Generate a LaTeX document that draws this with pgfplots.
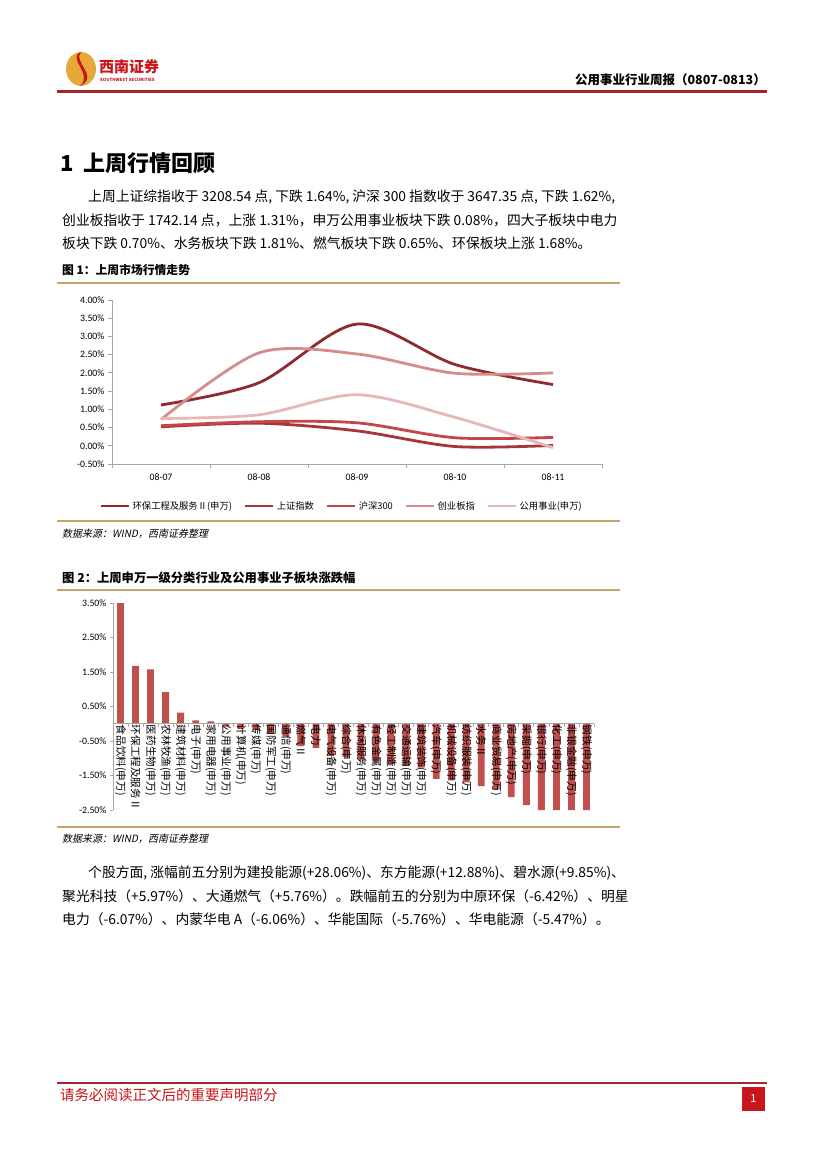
\documentclass[border=0pt]{standalone}
\usepackage{fontspec}
\usepackage{pgfplots}
\pgfplotsset{compat=1.18}
\setmainfont{Noto Sans CJK SC}
\newfontfamily\cjk{Noto Sans CJK SC}
\newfontfamily\srcfont[FakeSlant=0.2]{Noto Sans CJK SC}
\newfontfamily\chartfont{Carlito}
\definecolor{hdrred}{HTML}{A3262B}
\definecolor{logored}{HTML}{C8161D}
\definecolor{logogold}{HTML}{E6A83A}
\definecolor{tanline}{HTML}{C9A46A}
\definecolor{barred}{HTML}{C0504D}
\definecolor{cA}{HTML}{8E2B2E}
\definecolor{cB}{HTML}{A8353A}
\definecolor{cC}{HTML}{C44649}
\definecolor{cD}{HTML}{D48C8C}
\definecolor{cE}{HTML}{E5B8B8}
\definecolor{axgray}{HTML}{A6A6A6}
\begin{document}
\begin{tikzpicture}
\begin{scope}[x=1pt,y=-1pt]
\fill[white] (0,0) rectangle (827,1169);
\path[use as bounding box] (0,0) rectangle (827,1169);
% ---------- header ----------
\fill[logogold] (81,69) ellipse (15 and 17);
\fill[logored] (81,52) .. controls (66,58) and (94,74) .. (80,86) .. controls (100,76) and (72,62) .. (81,52) -- cycle;
\node[anchor=west, inner sep=0, text=logored, font=\bfseries\fontsize{15}{15}\selectfont] at (99,67) {西南证券};
\node[anchor=west, inner sep=0, text=logored, font=\bfseries\fontsize{4.3}{5}\selectfont] at (100,80) {SOUTHWEST SECURITIES};
\node[anchor=east, inner sep=0, font=\bfseries\fontsize{12.5}{13}\selectfont] at (766,80) {公用事业行业周报（0807-0813）};
\draw[hdrred, line width=2.2pt] (57,91.5) -- (767,91.5);
% ---------- section 1 ----------
\node[anchor=west, inner sep=0, font=\bfseries\fontsize{22}{23}\selectfont] at (60,163) {1\ \ 上周行情回顾};
\begin{scope}[every node/.style={anchor=west, inner sep=0, font=\fontsize{13.8}{15}\selectfont}]
\node at (88,197) {上周上证综指收于 3208.54 点, 下跌 1.64\%, 沪深 300 指数收于 3647.35 点, 下跌 1.62\%,};
\node at (62,220) {创业板指收于 1742.14 点，上涨 1.31\%，申万公用事业板块下跌 0.08\%，四大子板块中电力};
\node at (62,243) {板块下跌 0.70\%、水务板块下跌 1.81\%、燃气板块下跌 0.65\%、环保板块上涨 1.68\%。};
\end{scope}
% ---------- figure 1 frame ----------
\node[anchor=west, inner sep=0, font=\bfseries\fontsize{11.8}{12}\selectfont] at (62,270) {图 1：上周市场行情走势};
\draw[tanline, line width=1.3pt] (57,283) -- (620,283);
\draw[tanline, line width=1.3pt] (57,521) -- (620,521);
\node[anchor=west, inner sep=0, font=\srcfont\fontsize{10}{11}\selectfont] at (62,534) {数据来源：WIND，西南证券整理};
% ---------- figure 2 frame ----------
\node[anchor=west, inner sep=0, font=\bfseries\fontsize{12.3}{13}\selectfont] at (62,578) {图 2：上周申万一级分类行业及公用事业子板块涨跌幅};
\draw[tanline, line width=1.3pt] (57,590) -- (620,590);
\draw[tanline, line width=1.3pt] (57,827) -- (620,827);
\node[anchor=west, inner sep=0, font=\srcfont\fontsize{10}{11}\selectfont] at (62,839) {数据来源：WIND，西南证券整理};
% ---------- paragraph 2 ----------
\begin{scope}[every node/.style={anchor=west, inner sep=0, font=\fontsize{13.8}{15}\selectfont}]
\node at (88,873) {个股方面, 涨幅前五分别为建投能源(+28.06\%)、东方能源(+12.88\%)、碧水源(+9.85\%)、};
\node at (62,896) {聚光科技（+5.97\%）、大通燃气（+5.76\%）。跌幅前五的分别为中原环保（-6.42\%）、明星};
\node at (62,919) {电力（-6.07\%）、内蒙华电 A（-6.06\%）、华能国际（-5.76\%）、华电能源（-5.47\%）。};
\end{scope}
% ---------- footer ----------
\draw[hdrred, line width=1.8pt] (57,1083) -- (767,1083);
\node[anchor=west, inner sep=0, text=logored, font=\fontsize{14.5}{15}\selectfont] at (60,1095) {请务必阅读正文后的重要声明部分};
\fill[logored] (742,1087) rectangle (765,1111);
\node[text=white, inner sep=0, font=\fontsize{11}{12}\selectfont] at (753.5,1099) {1};
\end{scope}
% ---------- chart 1 ----------
\begin{axis}[
  at={(112pt,-464pt)}, anchor=south west,
  width=490pt, height=164pt, scale only axis,
  xmin=-0.5, xmax=4.5, ymin=-0.5, ymax=4,
  axis x line*=bottom, axis y line*=left,
  axis line style={axgray, line width=0.8pt},
  tick style={axgray, line width=0.8pt},
  tick align=outside, major tick length=4pt,
  xtick={-0.5,0.5,1.5,2.5,3.5,4.5}, xticklabels={},
  extra x ticks={0,1,2,3,4},
  extra x tick labels={08-07,08-08,08-09,08-10,08-11},
  extra x tick style={major tick length=0pt},
  ytick={-0.5,0,...,4},
  yticklabel={\pgfmathprintnumber[fixed,fixed zerofill,precision=2]{\tick}\%},
  /pgf/number format/assume math mode=true,
  tick label style={font=\chartfont\fontsize{9.8}{10}\selectfont, text=black},
  xticklabel style={yshift=-6pt},
  legend columns=5,
  legend style={at={(0.469,-0.256)}, anchor=center, draw=none, fill=none,
    font=\cjk\fontsize{9.3}{10}\selectfont,
    /tikz/every even column/.append style={column sep=10pt},
    inner sep=0pt},
  legend cell align=left,
  legend image code/.code={\draw[#1, line width=2.8pt] (0pt,0pt) -- (28pt,0pt);},
]
\addplot[cA, line width=2.8pt, smooth] coordinates {(0,1.12) (1,1.73) (2,3.34) (3,2.23) (4,1.68)};
\addplot[cB, line width=2.8pt, smooth] coordinates {(0,0.52) (1,0.62) (2,0.41) (3,-0.02) (4,0.01)};
\addplot[cC, line width=2.8pt, smooth] coordinates {(0,0.55) (1,0.66) (2,0.63) (3,0.22) (4,0.23)};
\addplot[cD, line width=2.8pt, smooth] coordinates {(0,0.72) (1,2.55) (2,2.52) (3,1.99) (4,2.00)};
\addplot[cE, line width=2.8pt, smooth] coordinates {(0,0.75) (1,0.85) (2,1.40) (3,0.78) (4,-0.05)};
\legend{环保工程及服务Ⅱ(申万),上证指数,沪深300,创业板指,公用事业(申万)}
\end{axis}
% ---------- chart 2 ----------
\begin{axis}[
  at={(113pt,-810pt)}, anchor=south west,
  width=481pt, height=207pt, scale only axis,
  axis on top,
  xmin=-0.5, xmax=31.5, ymin=-2.5, ymax=3.5,
  axis y line*=left, axis x line*=middle,
  axis line style={axgray, line width=0.8pt},
  tick style={axgray, line width=0.8pt},
  tick align=outside, major tick length=3pt,
  ytick={-2.5,-1.5,...,3.5},
  yticklabel={\pgfmathprintnumber[fixed,fixed zerofill,precision=2]{\tick}\%},
  /pgf/number format/assume math mode=true,
  yticklabel style={font=\chartfont\fontsize{9.8}{10}\selectfont, text=black},
  xtick={-0.5,0.5,...,31.5}, xticklabels={},
  extra x ticks={0,1,...,31},
  extra x tick labels={食品饮料(申万),环保工程及服务Ⅱ,医药生物(申万),农林牧渔(申万),建筑材料(申万),电子(申万),家用电器(申万),公用事业(申万),计算机(申万),传媒(申万),国防军工(申万),通信(申万),燃气Ⅱ,电力,电气设备(申万),综合(申万),休闲服务(申万),有色金属(申万),轻工制造(申万),交通运输(申万),建筑装饰(申万),汽车(申万),机械设备(申万),纺织服装(申万),水务Ⅱ,商业贸易(申万),房地产(申万),采掘(申万),银行(申万),化工(申万),非银金融(申万),钢铁(申万)},
  extra x tick style={major tick length=0pt,
    xticklabel style={rotate=-90, anchor=west, inner sep=1pt, text=black, font=\cjk\fontsize{10.6}{10}\selectfont}},
  ybar, bar width=6.8pt,
]
\addplot[fill=barred, draw=none] coordinates {
(0,3.52) (1,1.68) (2,1.58) (3,0.92) (4,0.32) (5,0.10) (6,0.07) (7,-0.08)
(8,-0.15) (9,-0.18) (10,-0.29) (11,-0.37) (12,-0.65) (13,-0.70) (14,-0.93) (15,-0.97)
(16,-1.03) (17,-1.08) (18,-1.17) (19,-1.22) (20,-1.27) (21,-1.60) (22,-1.64) (23,-1.70)
(24,-1.81) (25,-1.90) (26,-2.13) (27,-2.36) (28,-2.50) (29,-2.50) (30,-2.50) (31,-2.50)};
\end{axis}
\end{tikzpicture}
\end{document}
